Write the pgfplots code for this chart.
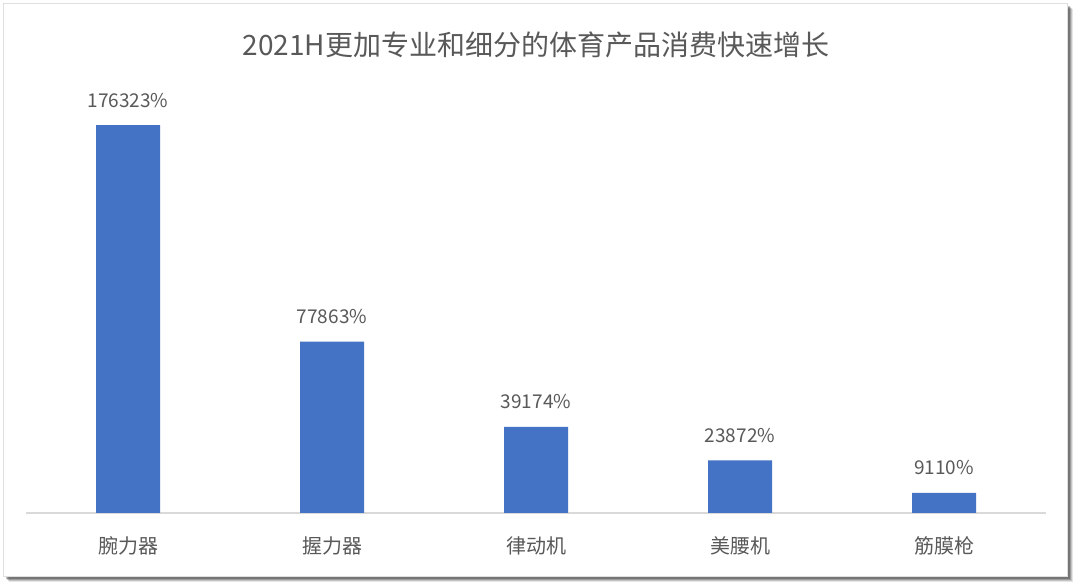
\documentclass[border=0pt]{standalone}
\usepackage{fontspec}
\setmainfont{Noto Sans CJK SC}
\usepackage{pgfplots}
\pgfplotsset{compat=1.18}
\definecolor{barblue}{HTML}{4472C4}
\definecolor{txtgray}{HTML}{595959}
\definecolor{axgray}{HTML}{D9D9D9}

\begin{document}
\begin{tikzpicture}[x=1pt,y=1pt]
% page size: 1080x587 px at 0.5pt/px
\path (0,0) rectangle (540,293.5);
% shadow
\foreach \o/\a in {3.0/0.10,2.5/0.15,2.0/0.2,1.5/0.25}{
  \fill[black,opacity=\a] (1.5+\o,5.5-\o) rectangle (533.5+\o,292-\o);
}
\fill[white] (1.5,5.5) rectangle (533.5,292);
\draw[gray!25,line width=0.4pt] (1.5,5.5) rectangle (533.5,292);

\node[text=txtgray,font=\fontsize{14}{17}\selectfont] at (268,271) {2021H更加专业和细分的体育产品消费快速增长};

\begin{axis}[
    at={(64pt,37pt)},
    anchor=origin,
    scale only axis,
    width=510pt,
    height=209pt,
    ybar,
    bar width=32pt,
    xmin=-0.5, xmax=4.5,
    ymin=0, ymax=190000,
    xtick=data,
    xticklabels={腕力器,握力器,律动机,美腰机,筋膜枪},
    major tick length=0pt,
    axis x line*=bottom,
    axis y line=none,
    axis line style={draw=axgray,line width=0.8pt,-},
    xticklabel style={anchor=center,yshift=-16.5pt,text=txtgray,font=\fontsize{10}{12}\selectfont},
    point meta=explicit symbolic,
    nodes near coords,
    nodes near coords style={anchor=center,yshift=12.5pt,text=txtgray,font=\fontsize{9.5}{12}\selectfont},
    clip=false,
]
\addplot[fill=barblue,draw=none] coordinates {
    (0,176323) [176323\%]
    (1,77863) [77863\%]
    (2,39174) [39174\%]
    (3,23872) [23872\%]
    (4,9110) [9110\%]
};
\end{axis}
\end{tikzpicture}
\end{document}
